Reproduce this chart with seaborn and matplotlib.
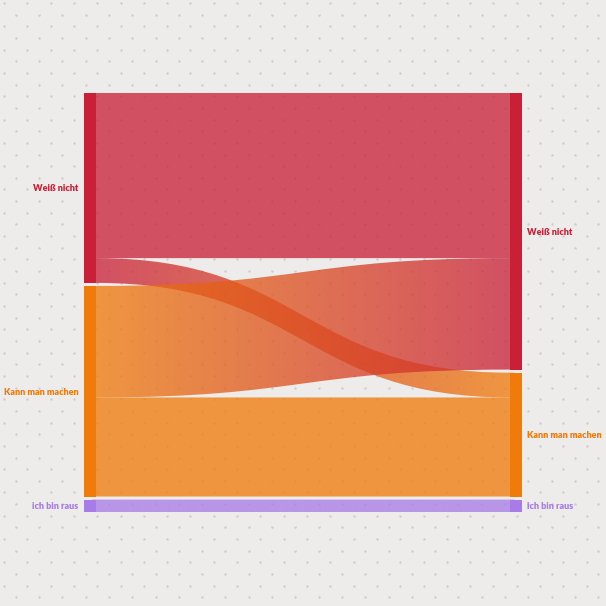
import numpy as np
import matplotlib.pyplot as plt
from matplotlib.path import Path
from matplotlib.patches import PathPatch
from matplotlib.colors import to_rgb
import seaborn as sns


"""Data"""

node_labels = ["Weiß nicht", "Kann man machen", "ich bin raus"]
node_colors = ["#c91f37", "#f07a0a", "#a77be8"]
flow_sources = [0, 0, 1, 1, 2]
flow_targets = [0, 1, 0, 1, 2]
flow_values = [40, 6, 27, 24, 3]

BG = "#edecea"
DOT = "#cfcdca"
PAD = 0.75
NODE_W = 0.028
FLOW_ALPHA = 0.76

sns.set_style("white")
plt.rcParams['font.family'] = ['Lato', 'DejaVu Sans']


"""Helpers"""


def Stack_Nodes(Totals):
    Tops = []
    y = 0
    for t in Totals:
        Tops.append(y)
        y += t + PAD
    return Tops


def Flow_Path(x0, x1, s_top, s_bot, t_top, t_bot, tuck=0.01):
    xm = (x0 + x1) / 2
    verts = [(x0 - tuck, s_top), (x0, s_top), (xm, s_top), (xm, t_top), (x1, t_top), (x1 + tuck, t_top),
             (x1 + tuck, t_bot), (x1, t_bot), (xm, t_bot), (xm, s_bot), (x0, s_bot), (x0 - tuck, s_bot),
             (x0 - tuck, s_top)]
    codes = [Path.MOVETO, Path.LINETO, Path.CURVE4, Path.CURVE4, Path.CURVE4, Path.LINETO,
             Path.LINETO, Path.LINETO, Path.CURVE4, Path.CURVE4, Path.CURVE4, Path.LINETO,
             Path.CLOSEPOLY]
    return Path(verts, codes)


"""Figure"""

fig = plt.figure(figsize=(6.06, 6.06), dpi=100, facecolor=BG)

# dotted backdrop
bg_ax = fig.add_axes([0, 0, 1, 1], zorder=0)
bg_ax.set_xlim(0, 606)
bg_ax.set_ylim(606, 0)
bg_ax.axis("off")
step = 606 / 26
xs, ys = [], []
for row in range(54):
    y = 3 + row * step / 2
    off = 4 if row % 2 == 0 else 4 + step / 2
    for col in range(27):
        xs.append(off + col * step)
        ys.append(y)
bg_ax.scatter(xs, ys, s=3, color=DOT, linewidths=0)

ax = fig.add_axes([84 / 606, 94 / 606, 438 / 606, 419 / 606], zorder=1)
ax.patch.set_alpha(0)
ax.axis("off")

n = len(node_labels)
left_tot = [sum(v for s, v in zip(flow_sources, flow_values) if s == i) for i in range(n)]
right_tot = [sum(v for t, v in zip(flow_targets, flow_values) if t == i) for i in range(n)]
left_top = Stack_Nodes(left_tot)
right_top = Stack_Nodes(right_tot)
total = sum(left_tot) + PAD * (n - 1)

# flows
left_off = list(left_top)
right_off = list(right_top)
order_out = sorted(range(len(flow_values)), key=lambda k: (flow_sources[k], flow_targets[k]))
spans = {}
for k in order_out:
    s, v = flow_sources[k], flow_values[k]
    spans[k] = [left_off[s], left_off[s] + v]
    left_off[s] += v
order_in = sorted(range(len(flow_values)), key=lambda k: (flow_targets[k], flow_sources[k]))
for k in order_in:
    t, v = flow_targets[k], flow_values[k]
    spans[k] += [right_off[t], right_off[t] + v]
    right_off[t] += v

grad = np.clip((np.linspace(0, 1, 256) - NODE_W) / (1 - 2 * NODE_W), 0, 1)
for k in range(len(flow_values)):
    s_top, s_bot, t_top, t_bot = spans[k]
    path = Flow_Path(NODE_W, 1 - NODE_W, s_top, s_bot, t_top, t_bot)
    patch = PathPatch(path, facecolor="none", edgecolor="none", zorder=2)
    ax.add_patch(patch)
    c0 = np.array(to_rgb(node_colors[flow_sources[k]]))
    c1 = np.array(to_rgb(node_colors[flow_targets[k]]))
    img = np.zeros((1, 256, 4))
    img[0, :, :3] = c0[None, :] * (1 - grad[:, None]) + c1[None, :] * grad[:, None]
    img[0, :, 3] = FLOW_ALPHA
    im = ax.imshow(img, extent=[0, 1, total, 0], aspect="auto",
                   interpolation="bilinear", zorder=2)
    im.set_clip_path(patch)

# nodes
for i in range(n):
    ax.bar(0, left_tot[i], bottom=left_top[i], width=NODE_W, align="edge",
           color=node_colors[i], linewidth=0, zorder=3)
    ax.bar(1 - NODE_W, right_tot[i], bottom=right_top[i], width=NODE_W, align="edge",
           color=node_colors[i], linewidth=0, zorder=3)
    ax.text(-0.012, left_top[i] + left_tot[i] / 2, node_labels[i], ha="right", va="center_baseline",
            fontsize=6.5, fontweight="heavy", color=node_colors[i])
    ax.text(1.012, right_top[i] + right_tot[i] / 2, node_labels[i], ha="left", va="center_baseline",
            fontsize=6.5, fontweight="heavy", color=node_colors[i])

ax.set_xlim(0, 1)
ax.set_ylim(total, 0)

fig.savefig("out.png", dpi=100, facecolor=BG)
